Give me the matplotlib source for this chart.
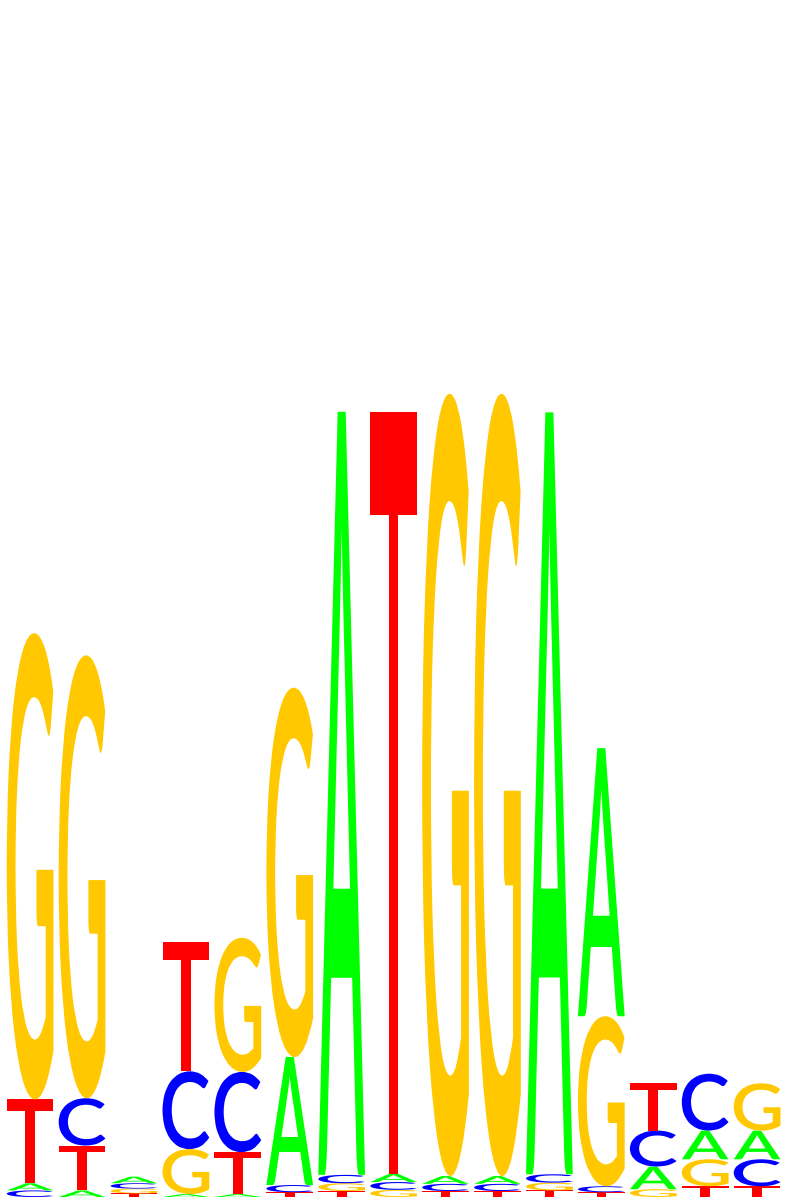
"""Sequence logo recreated with matplotlib glyph paths."""

import matplotlib

matplotlib.use("Agg")
import matplotlib.pyplot as plt
from matplotlib.font_manager import FontProperties
from matplotlib.patches import PathPatch
from matplotlib.textpath import TextPath
from matplotlib.transforms import Affine2D

# information content per base (bits), one value per position 1..15
positions = list(range(1, 16))
height_A = [0.012, 0.011, 0.011, 0.005, 0.005, 0.214, 1.275, 0.014, 0.013, 0.013, 1.273, 0.448, 0.038, 0.048, 0.048]
height_C = [0.011, 0.079, 0.009, 0.130, 0.134, 0.012, 0.014, 0.013, 0.012, 0.012, 0.014, 0.010, 0.060, 0.095, 0.045]
height_G = [0.779, 0.740, 0.008, 0.075, 0.224, 0.617, 0.013, 0.012, 1.307, 1.307, 0.013, 0.284, 0.013, 0.045, 0.079]
height_T = [0.140, 0.075, 0.006, 0.216, 0.070, 0.008, 0.010, 1.273, 0.010, 0.010, 0.011, 0.008, 0.079, 0.018, 0.018]

BASE_COLORS = {"A": "#00ff00", "C": "#0000ff", "G": "#ffc800", "T": "#ff0000"}
FONT = FontProperties(family="Lato", weight=600)
LETTER_WIDTH = 0.9


def draw_letter(axis, letter, x_center, y_bottom, height):
    """Draw one base glyph stretched to fill its box."""
    path = TextPath((0, 0), letter, size=1, prop=FONT)
    extents = path.get_extents()
    transform = (
        Affine2D()
        .translate(-extents.x0, -extents.y0)
        .scale(LETTER_WIDTH / extents.width, height / extents.height)
        .translate(x_center - LETTER_WIDTH / 2, y_bottom)
    )
    patch = PathPatch(transform.transform_path(path), facecolor=BASE_COLORS[letter],
                      edgecolor="none", antialiased=True)
    axis.add_patch(patch)


figure = plt.figure(figsize=(7.95, 12), dpi=100)
axis = figure.add_axes([0, 3 / 1200, 1, 1197 / 1200])

for index, position in enumerate(positions):
    column = [("A", height_A[index]), ("C", height_C[index]),
              ("G", height_G[index]), ("T", height_T[index])]
    column.sort(key=lambda item: item[1])
    y_bottom = 0.0
    for letter, height in column:
        draw_letter(axis, letter, position, y_bottom, height)
        y_bottom += height

axis.set_xlim(0.42, 15.73)
axis.set_ylim(0, 2.0)
axis.axis("off")

figure.savefig("out.png", dpi=100)
plt.close(figure)
